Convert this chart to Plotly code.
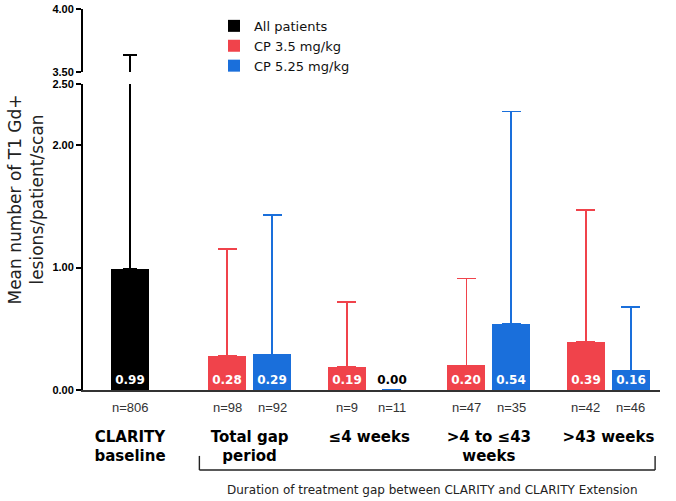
import plotly.graph_objects as go

# ---- data ----
categories = ["CLARITY<br>baseline", "Total gap<br>period", "≤4 weeks", ">4 to ≤43<br>weeks", ">43 weeks"]
all_idx = [0]
all_vals = [0.99]
all_err = [2.645]
all_n = ["n=806"]

grp_idx = [1, 2, 3, 4]
red_vals = [0.28, 0.19, 0.20, 0.39]
red_err = [0.87, 0.53, 0.71, 1.08]
red_n = ["n=98", "n=9", "n=47", "n=42"]
blue_vals = [0.29, 0.00, 0.54, 0.16]
blue_err = [1.14, None, 1.735, 0.52]
blue_n = ["n=92", "n=11", "n=35", "n=46"]

names = ["All patients", "CP 3.5 mg/kg", "CP 5.25 mg/kg"]
xlabel = "Duration of treatment gap between CLARITY and CLARITY Extension"
ytitle = "Mean number of T1 Gd+<br>lesions/patient/scan"

# ---- style ----
BLACK = "#000000"
RED = "#F0434B"
BLUE = "#1A6FDB"
W = 0.318
OFF_ALL = -W / 2
OFF_RED = -0.188 - W / 2
OFF_BLUE = 0.188 - W / 2
SANS = "DejaVu Sans"
ARIAL = "Liberation Sans, Arial"

fig = go.Figure()

def lbl_font(colors):
    return dict(family=SANS, size=12, color=colors, weight="bold")

fig.add_trace(go.Bar(
    x=all_idx, y=all_vals, name=names[0], marker=dict(color=BLACK, line=dict(width=0)),
    width=W, offset=OFF_ALL,
    error_y=dict(type="data", array=all_err, arrayminus=[0] * len(all_err), symmetric=False,
                 color=BLACK, thickness=1.6, width=7),
    texttemplate="%{y:.2f}", textposition="inside", insidetextanchor="start",
    textfont=lbl_font("white"), constraintext="none",
))
fig.add_trace(go.Bar(
    x=grp_idx, y=red_vals, name=names[1], marker=dict(color=RED, line=dict(width=0)),
    width=W, offset=OFF_RED,
    error_y=dict(type="data", array=red_err, arrayminus=[0] * len(red_err), symmetric=False,
                 color=RED, thickness=1.6, width=9.5),
    texttemplate="%{y:.2f}", textposition="inside", insidetextanchor="start",
    textfont=lbl_font("white"), constraintext="none",
))
fig.add_trace(go.Bar(
    x=grp_idx, y=blue_vals, name=names[2], marker=dict(color=BLUE, line=dict(width=0)),
    width=W, offset=OFF_BLUE,
    error_y=dict(type="data", array=blue_err, arrayminus=[0] * len(blue_err), symmetric=False,
                 color=BLUE, thickness=1.8, width=9.5),
    texttemplate="%{y:.2f}",
    textposition=["inside" if v > 0 else "outside" for v in blue_vals],
    insidetextanchor="start",
    textfont=lbl_font(["white" if v > 0 else "black" for v in blue_vals]),
    constraintext="none", cliponaxis=False,
))
# continuation of the baseline error bar on the upper (broken) axis segment
fig.add_trace(go.Bar(
    x=all_idx, y=all_vals, yaxis="y2", marker=dict(color=BLACK, line=dict(width=0)),
    width=W, offset=OFF_ALL, showlegend=False, hoverinfo="skip",
    error_y=dict(type="data", array=all_err, arrayminus=[0] * len(all_err), symmetric=False,
                 color=BLACK, thickness=1.6, width=7),
))

# n= labels under each bar
for idxs, ns, off in [(all_idx, all_n, OFF_ALL), (grp_idx, red_n, OFF_RED), (grp_idx, blue_n, OFF_BLUE)]:
    for i, n in zip(idxs, ns):
        fig.add_annotation(x=i + off + W / 2, y=0, xref="x", yref="y", text=n, showarrow=False,
                           yanchor="top", yshift=-8, font=dict(family=ARIAL, size=13, color="#333"))

# y-axis title
fig.add_annotation(x=-0.1005, y=0.5, xref="paper", yref="paper", text=ytitle, textangle=-90,
                   showarrow=False, xanchor="center", yanchor="middle",
                   font=dict(family=SANS, size=17, color="#222"))
# x description
fig.add_annotation(x=0.605, y=-0.262, xref="paper", yref="paper", text=xlabel, showarrow=False,
                   xanchor="center", yanchor="middle", font=dict(family=SANS, size=12, color="#222"))

# bracket under the gap groups
bl = grp_idx[0] - 0.42
br = grp_idx[-1] + 0.39
yb, yt = -0.21, -0.173
line = dict(color="#222", width=1.4)
fig.add_shape(type="line", xref="x", yref="paper", x0=bl, x1=br, y0=yb, y1=yb, line=line)
fig.add_shape(type="line", xref="x", yref="paper", x0=bl, x1=bl, y0=yb, y1=yt, line=line)
fig.add_shape(type="line", xref="x", yref="paper", x0=br, x1=br, y0=yb, y1=yt, line=line)

fig.update_layout(
    width=676, height=501,
    margin=dict(l=83, r=16, t=9, b=111, autoexpand=False),
    paper_bgcolor="white", plot_bgcolor="white",
    barmode="overlay", bargap=0,
    showlegend=True,
    legend=dict(x=0.227, y=0.995, xanchor="left", yanchor="top", bgcolor="rgba(0,0,0,0)",
                font=dict(family=SANS, size=13, color="#111"), itemwidth=30, tracegroupgap=0),
    xaxis=dict(range=[-0.393, 4.431], tickvals=list(range(len(categories))), ticktext=categories,
               showline=True, linecolor="#333", linewidth=1.5, ticks="", showgrid=False,
               zeroline=False, ticklabelstandoff=32, automargin=False,
               tickfont=dict(family=SANS, size=15, color="black", weight="bold")),
    yaxis=dict(domain=[0, 0.803], range=[0, 2.5], tickvals=[0, 1, 2, 2.5], tickformat=".2f",
               showline=True, linecolor="black", linewidth=2, ticks="outside", ticklen=5,
               tickwidth=2, tickcolor="black", showgrid=False, zeroline=False, automargin=False,
               tickfont=dict(family=ARIAL, size=11, color="black", weight="bold")),
    yaxis2=dict(domain=[0.8346, 1], range=[3.5, 4.0], tickvals=[3.5, 4.0], tickformat=".2f",
                anchor="x", showline=True, linecolor="black", linewidth=2, ticks="outside",
                ticklen=5, tickwidth=2, tickcolor="black", showgrid=False, zeroline=False,
                automargin=False,
                tickfont=dict(family=ARIAL, size=11, color="black", weight="bold")),
)

fig.write_html("out.html", config={"displayModeBar": False},
               post_script="document.body.style.margin='0';")
